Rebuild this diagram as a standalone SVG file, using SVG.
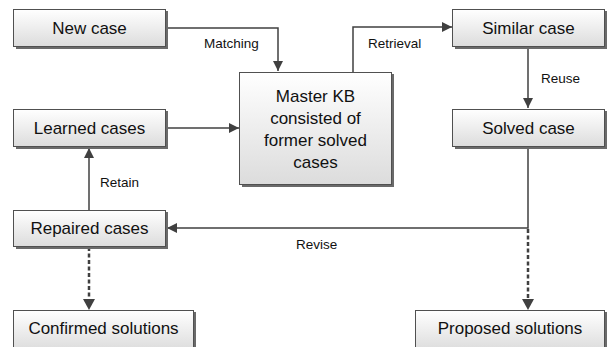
<svg xmlns="http://www.w3.org/2000/svg" width="607" height="347" viewBox="0 0 607 347">
<defs>
<linearGradient id="g" x1="0" y1="0" x2="0" y2="1">
<stop offset="0" stop-color="#ffffff"/>
<stop offset="1" stop-color="#dcdcdc"/>
</linearGradient>
<marker id="ah" viewBox="0 0 10 10" refX="10" refY="5" markerWidth="10" markerHeight="10" markerUnits="userSpaceOnUse" orient="auto">
<path d="M0,0 L10,5 L0,10 Z" fill="#404040"/>
</marker>
</defs>
<style>
.box{fill:url(#g);stroke:#505050;stroke-width:1}
.sh{fill:#6a6a6a}
.t{font-family:"Liberation Sans",Arial,sans-serif;font-size:17px;fill:#111;text-anchor:middle;dominant-baseline:central}
.l{font-family:"Liberation Sans",Arial,sans-serif;font-size:13.5px;fill:#111;dominant-baseline:central}
.c{fill:none;stroke:#404040;stroke-width:1.5}
.d{fill:none;stroke:#404040;stroke-width:2.5;stroke-dasharray:4 2.5}
</style>
<g id="connectors">
<path class="c" d="M166,28 H278 V71" marker-end="url(#ah)"/>
<path class="c" d="M353,72 V27 H452" marker-end="url(#ah)"/>
<path class="c" d="M528,47 V108" marker-end="url(#ah)"/>
<path class="c" d="M166,128 H239" marker-end="url(#ah)"/>
<path class="c" d="M89,210 V148" marker-end="url(#ah)"/>
<path class="c" d="M528,148 V228 H167" marker-end="url(#ah)"/>
<path class="d" d="M528,229 V302"/>
<path d="M522,299 L534,299 L528,310 Z" fill="#404040"/>
<path class="d" d="M89,247 V302"/>
<path d="M83,299 L95,299 L89,310 Z" fill="#404040"/>
<text class="l" x="204" y="43">Matching</text>
<text class="l" x="368" y="43">Retrieval</text>
<text class="l" x="541" y="78">Reuse</text>
<text class="l" x="100" y="182">Retain</text>
<text class="l" x="296" y="244">Revise</text>
</g>
<g id="new-case">
<rect class="sh" x="16" y="11" width="152" height="38"/>
<rect class="box" x="13.5" y="9.5" width="152" height="37"/>
<text class="t" x="89.5" y="28">New case</text>
</g>
<g id="master-kb">
<rect class="sh" x="242" y="74" width="152" height="113"/>
<rect class="box" x="239.5" y="72.5" width="152" height="112"/>
<text class="t" x="315.5" y="96">Master KB</text>
<text class="t" x="315.5" y="118">consisted of</text>
<text class="t" x="315.5" y="140">former solved</text>
<text class="t" x="315.5" y="162">cases</text>
</g>
<g id="similar-case">
<rect class="sh" x="455" y="11" width="152" height="38"/>
<rect class="box" x="452.5" y="9.5" width="152" height="37"/>
<text class="t" x="528.5" y="28">Similar case</text>
</g>
<g id="solved-case">
<rect class="sh" x="455" y="111" width="152" height="38"/>
<rect class="box" x="452.5" y="109.5" width="152" height="37"/>
<text class="t" x="528.5" y="128">Solved case</text>
</g>
<g id="learned-cases">
<rect class="sh" x="16" y="111" width="152" height="38"/>
<rect class="box" x="13.5" y="109.5" width="152" height="37"/>
<text class="t" x="89.5" y="128">Learned cases</text>
</g>
<g id="repaired-cases">
<rect class="sh" x="16" y="212" width="152" height="37"/>
<rect class="box" x="13.5" y="210.5" width="152" height="36"/>
<text class="t" x="89.5" y="228.5">Repaired cases</text>
</g>
<g id="confirmed-solutions">
<rect class="sh" x="16" y="312" width="180" height="40"/>
<rect class="box" x="13.5" y="310.5" width="180" height="40"/>
<text class="t" x="103.5" y="328.5">Confirmed solutions</text>
</g>
<g id="proposed-solutions">
<rect class="sh" x="418" y="312" width="190" height="40"/>
<rect class="box" x="415.5" y="310.5" width="189" height="40"/>
<text class="t" x="510" y="328.5">Proposed solutions</text>
</g>
</svg>
